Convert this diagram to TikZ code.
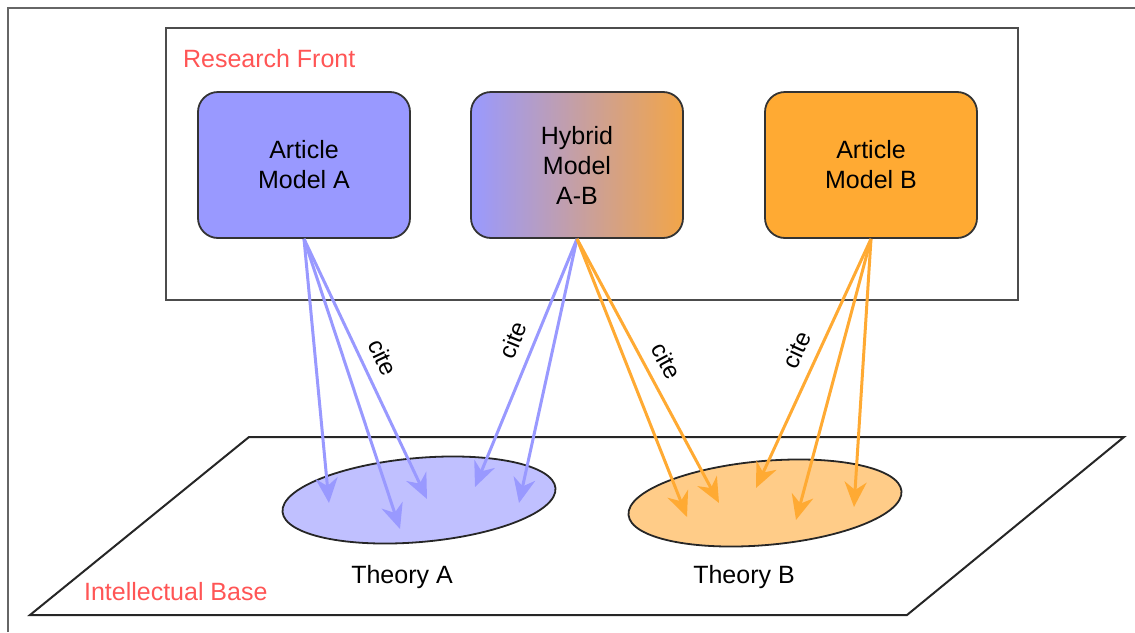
\documentclass[tikz,border=0pt]{standalone}
\usepackage{fontspec}
\setmainfont{Liberation Sans}
\usepackage{tikz}
\usetikzlibrary{shapes}
\usetikzlibrary{shapes.geometric}
\usetikzlibrary{arrows.meta}
\usetikzlibrary{positioning}
\definecolor{modelblue}{HTML}{9999FF}
\definecolor{modelorange}{HTML}{FFAA33}
\definecolor{theoryblue}{HTML}{C0C0FF}
\definecolor{theoryorange}{HTML}{FFCC88}
\definecolor{hybridorange}{HTML}{F2A548}
\definecolor{labelred}{HTML}{FF5555}
\begin{document}
\begin{tikzpicture}[x=0.5pt, y=-0.5pt,
% define styles here
model/.style={rectangle, draw=black!80, line width=0.9pt, rounded corners=10pt, minimum width=106pt, minimum height=73pt, align=center, font=\fontsize{12.5}{15}\selectfont},
theory/.style={ellipse, draw=black!85, line width=0.9pt, minimum width=137pt, minimum height=42pt, rotate=5},
citeblue/.style={draw=modelblue, line width=1.5pt, -{Stealth[length=12.5pt, width=11pt, inset=4pt]}},
citeorange/.style={draw=modelorange, line width=1.5pt, -{Stealth[length=12.5pt, width=11pt, inset=4pt]}},
citelabel/.style={sloped, above=2pt, font=\fontsize{12}{14}\selectfont},
arealabel/.style={text=labelred, anchor=west, font=\fontsize{12.5}{15}\selectfont},
theorylabel/.style={font=\fontsize{12.5}{15}\selectfont}
]
\useasboundingbox (0,0) rectangle (1135,632);
\draw[black!60, line width=0.8pt] (8,632) -- (8,8) -- (1135,8);

% research front
\draw[black!70, line width=1pt] (166,28) rectangle (1018,300);
\node[arealabel] (front) at (176,59) {Research Front};
\node[model, fill=modelblue] (artA) at (304,165) {Article\\Model A};
\node[model, left color=modelblue, right color=hybridorange] (hyb) at (577,165) {Hybrid\\Model\\A-B};
\node[model, fill=modelorange] (artB) at (871,165) {Article\\Model B};

% intellectual base
\draw[black!85, line width=1pt] (249,437) -- (1124,437) -- (907,615) -- (30,615) -- cycle;
\node[arealabel] (base) at (77,592) {Intellectual Base};
\node[theory, fill=theoryblue] (thA) at (419,500) {};
\node[theory, fill=theoryorange] (thB) at (765,503) {};
\node[theorylabel] (labA) at (402,577) {Theory A};
\node[theorylabel] (labB) at (744,577) {Theory B};

% arrow ends
\coordinate (a1) at (329,503);
\coordinate (a2) at (400,529);
\coordinate (a3) at (427,499);
\coordinate (h1) at (475,487);
\coordinate (h2) at (519,503);
\coordinate (h3) at (687,517);
\coordinate (h4) at (719,503);
\coordinate (b1) at (756,488);
\coordinate (b2) at (796,520);
\coordinate (b3) at (854,507);

\draw[citeblue] (artA.south) -- (a1);
\draw[citeblue] (artA.south) -- (a2);
\draw[citeblue] (artA.south) -- node[citelabel, pos=0.49] {cite} (a3);
\draw[citeblue] (hyb.south) -- node[citelabel, pos=0.44] {cite} (h1);
\draw[citeblue] (hyb.south) -- (h2);
\draw[citeorange] (hyb.south) -- (h3);
\draw[citeorange] (hyb.south) -- node[citelabel, pos=0.5] {cite} (h4);
\draw[citeorange] (artB.south) -- node[citelabel, pos=0.48] {cite} (b1);
\draw[citeorange] (artB.south) -- (b2);
\draw[citeorange] (artB.south) -- (b3);
\end{tikzpicture}
\end{document}
